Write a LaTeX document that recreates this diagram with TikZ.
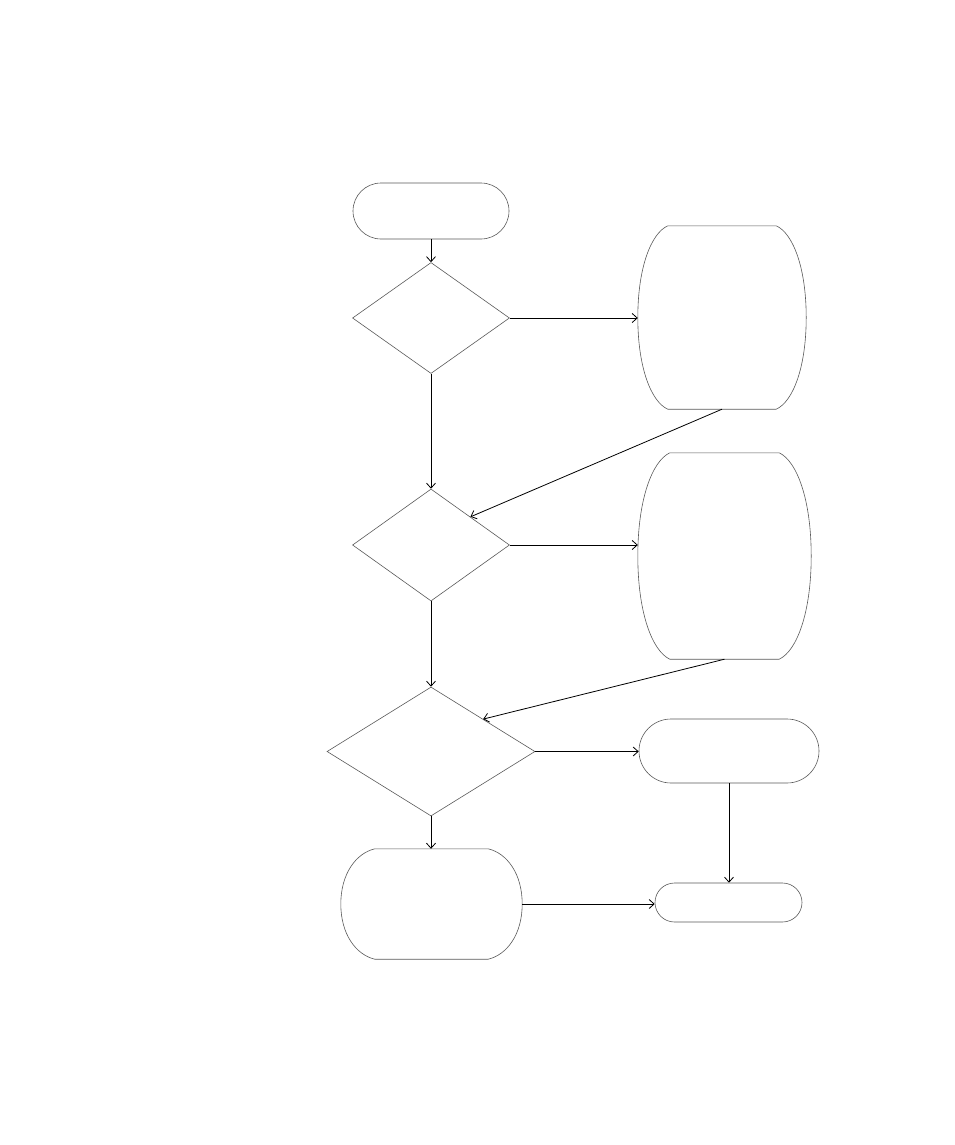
\documentclass[tikz,border=0pt]{standalone}
\usetikzlibrary{shapes.geometric,arrows.meta,calc}
\tikzset{
  outline/.style={draw=black!65, line width=0.6pt},
  stadium/.style={outline, rectangle, inner sep=0pt},
  decision/.style={outline, diamond, inner sep=0pt},
  barrel/.style={rectangle, draw=none, inner sep=0pt},
  flow/.style={draw=black, line width=0.8pt, -{Straight Barb[length=5pt,width=9pt]}},
}
\newcommand\barrelpath[2]{%
  \draw[outline] let \p1=(#1.north west), \p2=(#1.south east), \n1={(\y1-\y2)/2} in
   (\x1+#2,\y1) -- (\x2-#2,\y1)
   .. controls (\x2-0.45*#2,\y1-0.08*\n1) and (\x2,\y1-0.45*\n1) .. (\x2,\y1-\n1)
   .. controls (\x2,\y2+0.45*\n1) and (\x2-0.45*#2,\y2+0.08*\n1) .. (\x2-#2,\y2)
   -- (\x1+#2,\y2)
   .. controls (\x1+0.45*#2,\y2+0.08*\n1) and (\x1,\y2+0.45*\n1) .. (\x1,\y2+\n1)
   .. controls (\x1,\y1-0.45*\n1) and (\x1+0.45*#2,\y1-0.08*\n1) .. cycle;}
\begin{document}
\begin{tikzpicture}[x=1pt,y=-1pt]
\useasboundingbox (0,0) rectangle (954,1145);
\node[stadium, rounded corners=28pt, minimum width=156pt, minimum height=56pt] (start) at (431,211) {};
\node[decision, minimum width=157pt, minimum height=111pt] (d1) at (431,318) {};
\node[barrel, minimum width=168pt, minimum height=183pt] (b1) at (722,317.5) {};
\node[decision, minimum width=157pt, minimum height=112pt] (d2) at (431,545) {};
\node[barrel, minimum width=173pt, minimum height=206pt] (b2) at (724.5,556) {};
\node[decision, minimum width=208pt, minimum height=129pt] (d3) at (431,751.5) {};
\node[stadium, rounded corners=32pt, minimum width=180pt, minimum height=64pt] (s2) at (729,751) {};
\node[stadium, rounded corners=19.5pt, minimum width=147pt, minimum height=39pt] (e) at (728.5,902.5) {};
\node[barrel, minimum width=181pt, minimum height=110pt] (b3) at (431.5,904) {};
\barrelpath{b1}{30pt}
\barrelpath{b2}{32pt}
\barrelpath{b3}{34pt}
\draw[flow] (start.south) -- (d1.north);
\draw[flow] (d1.east) -- (d1.east -| b1.west);
\draw[flow] (d1.south) -- (d2.north);
\draw[flow] (b1.south) -- (d2.north east);
\draw[flow] (d2.east) -- (d2.east -| b2.west);
\draw[flow] (d2.south) -- (d3.north);
\draw[flow] (b2.south) -- (d3.north east);
\draw[flow] (d3.east) -- (d3.east -| s2.west);
\draw[flow] (d3.south) -- (d3.south |- b3.north);
\draw[flow] (s2.south) -- (s2.south |- e.north);
\draw[flow] (b3.east) -- (b3.east -| e.west);
\end{tikzpicture}
\end{document}
